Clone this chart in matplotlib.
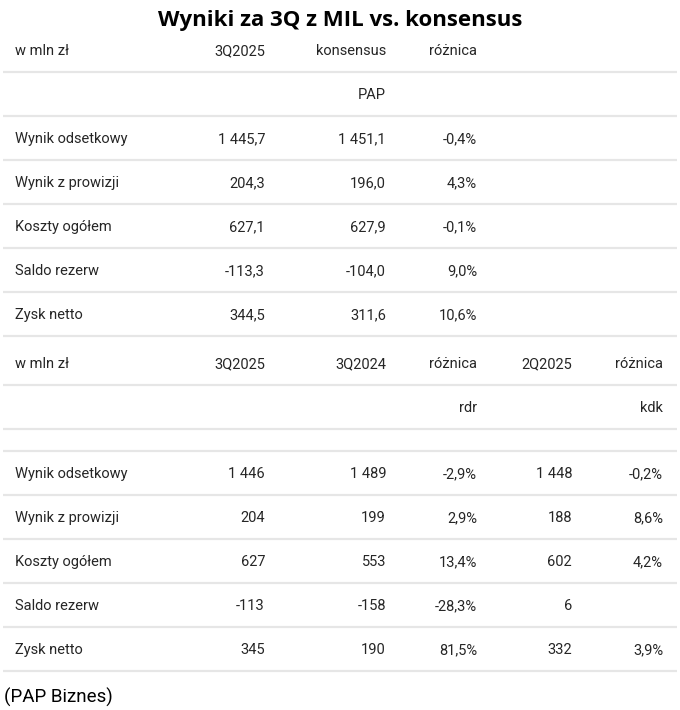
import matplotlib
matplotlib.use("Agg")
import matplotlib.pyplot as plt

# data
title = "Wyniki za 3Q z MIL vs. konsensus"
source = "(PAP Biznes)"

t1_header = ["w mln zł", "3Q2025", "konsensus", "różnica"]
t1_sub = ["", "", "PAP", ""]
t1_labels = ["Wynik odsetkowy", "Wynik z prowizji", "Koszty ogółem", "Saldo rezerw", "Zysk netto"]
t1_3q2025 = ["1 445,7", "204,3", "627,1", "-113,3", "344,5"]
t1_kons = ["1 451,1", "196,0", "627,9", "-104,0", "311,6"]
t1_diff = ["-0,4%", "4,3%", "-0,1%", "9,0%", "10,6%"]

t2_header = ["w mln zł", "3Q2025", "3Q2024", "różnica", "2Q2025", "różnica"]
t2_sub = ["", "", "", "rdr", "", "kdk"]
t2_labels = ["Wynik odsetkowy", "Wynik z prowizji", "Koszty ogółem", "Saldo rezerw", "Zysk netto"]
t2_3q2025 = ["1 446", "204", "627", "-113", "345"]
t2_3q2024 = ["1 489", "199", "553", "-158", "190"]
t2_rdr = ["-2,9%", "2,9%", "13,4%", "-28,3%", "81,5%"]
t2_2q2025 = ["1 448", "188", "602", "6", "332"]
t2_kdk = ["-0,2%", "8,6%", "4,2%", "", "3,9%"]

# layout (pixels)
W, H = 680, 710
label_x = 15
col_right = [265, 386, 477, 572, 663]
line_x0, line_x1 = 3, 677
txt_color = "#262626"
line_color = "#e6e6e6"

# build row list: (cells, height)
rows = [(t1_header, 49), (t1_sub, 44)]
for r in zip(t1_labels, t1_3q2025, t1_kons, t1_diff):
    rows.append((list(r), 44))
rows += [(t2_header, 49), (t2_sub, 44), ([""], 22)]
for r in zip(t2_labels, t2_3q2025, t2_3q2024, t2_rdr, t2_2q2025, t2_kdk):
    rows.append((list(r), 44))

fig = plt.figure(figsize=(W / 100, H / 100), dpi=100)
ax = fig.add_axes([0, 0, 1, 1])
ax.set_xlim(0, W)
ax.set_ylim(H, 0)
ax.axis("off")

ax.text(W / 2, 26, title, ha="center", va="baseline", fontsize=16,
        fontweight="bold", family="Open Sans", color="black")

y = 23
for cells, h in rows:
    ty = y + h - 17   # baseline
    for i, c in enumerate(cells):
        if not c:
            continue
        if i == 0:
            ax.text(label_x, ty, c, ha="left", va="baseline", fontsize=10.5,
                    family="Roboto", color=txt_color)
        else:
            ax.text(col_right[i - 1], ty, c, ha="right", va="baseline", fontsize=10.5,
                    family="Roboto", color=txt_color)
    y += h
    ax.plot([line_x0, line_x1], [y, y], color=line_color, lw=1.6, solid_capstyle="butt")

ax.text(4, y + 32, source, ha="left", va="baseline", fontsize=13.5,
        family="Roboto", color="black")

fig.savefig("out.png", dpi=100)
